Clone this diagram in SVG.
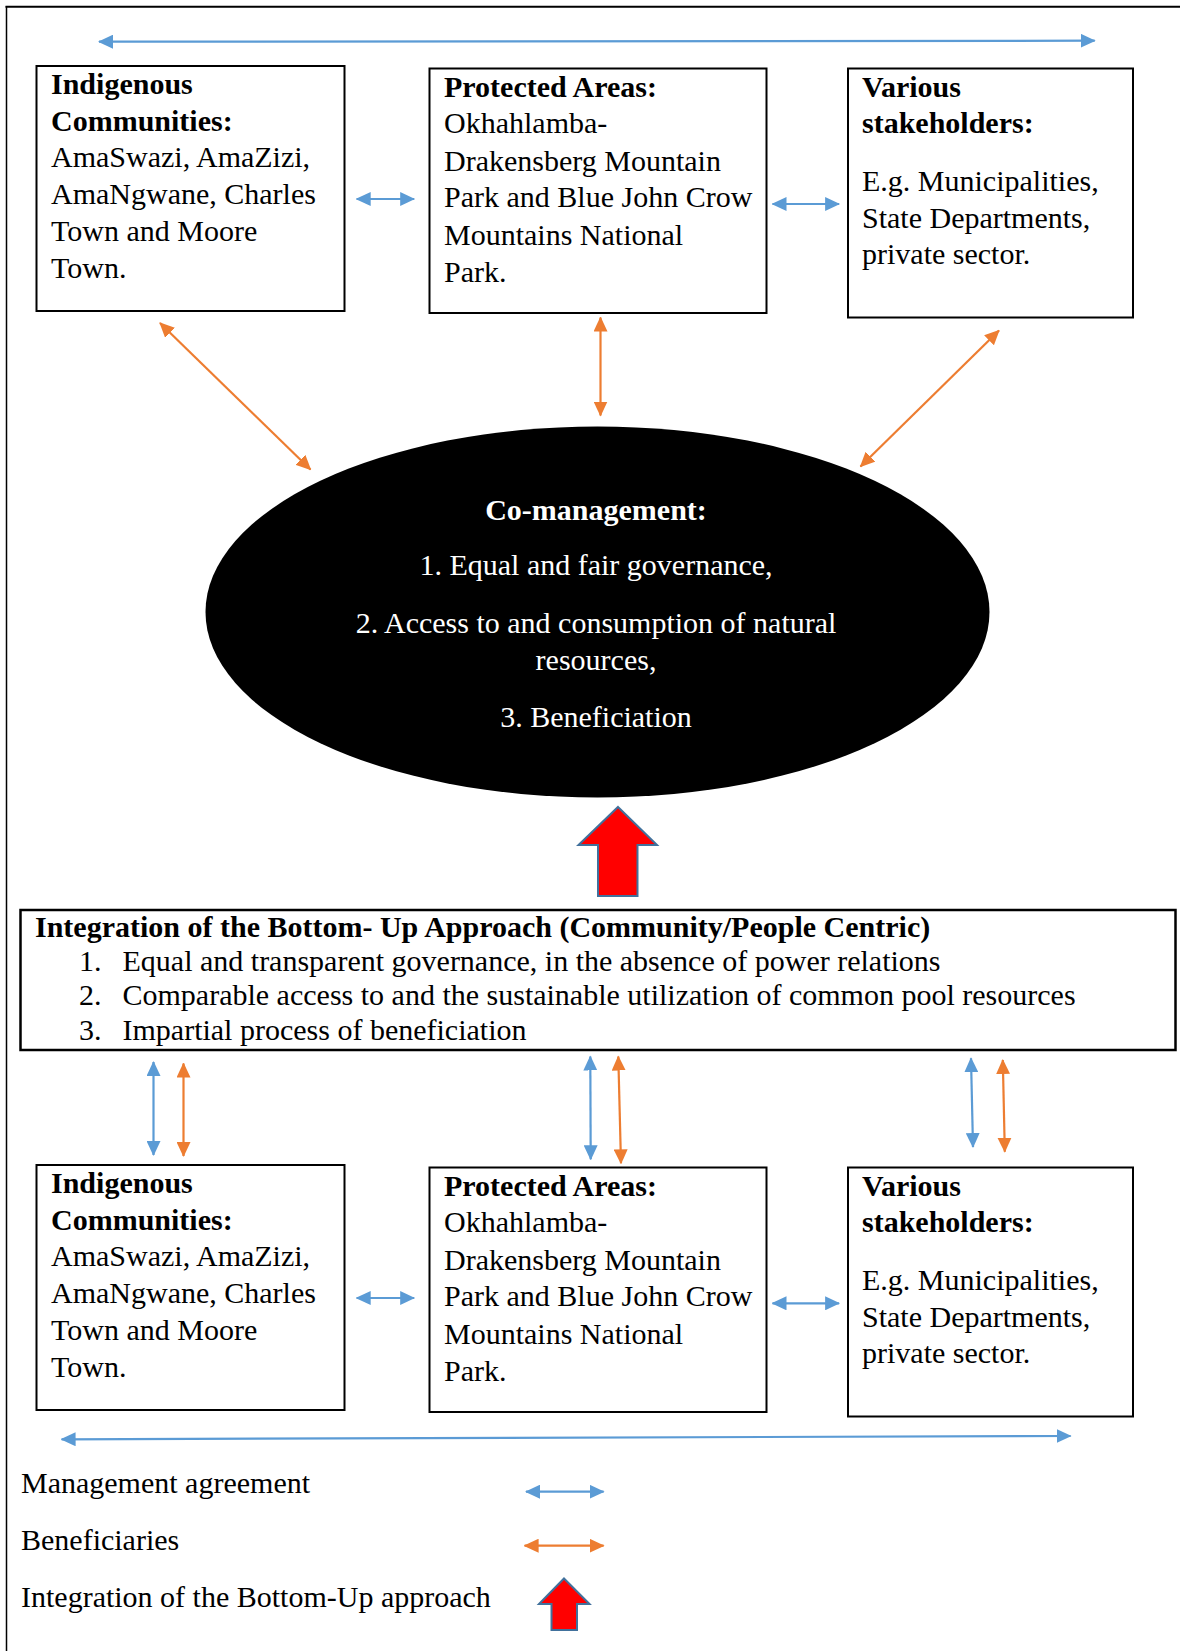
<svg xmlns="http://www.w3.org/2000/svg" width="1180" height="1651" viewBox="0 0 1180 1651">
  <style>
    text { font-family: "Liberation Serif", "Times New Roman", serif; font-size: 30px; fill: #000; }
    .b { font-weight: bold; }
    .w { fill: #fff; }
    .mid { text-anchor: middle; }
    .box { fill: #fff; stroke: #000; stroke-width: 2; }
    .blue { stroke: #5B9BD5; stroke-width: 2.2; fill: none; marker-start: url(#headBlue); marker-end: url(#headBlue); }
    .orange { stroke: #ED7D31; stroke-width: 2.2; fill: none; marker-start: url(#headOrange); marker-end: url(#headOrange); }
    .block { fill: #FF0000; stroke: #41719C; stroke-width: 2; stroke-linejoin: miter; }
  </style>
  <defs>
    <marker id="headBlue" markerUnits="userSpaceOnUse" viewBox="0 0 15 14" markerWidth="15" markerHeight="14" refX="14" refY="7" orient="auto-start-reverse">
      <path d="M0,0 L15,7 L0,14 z" fill="#5B9BD5"/>
    </marker>
    <marker id="headOrange" markerUnits="userSpaceOnUse" viewBox="0 0 15 14" markerWidth="15" markerHeight="14" refX="14" refY="7" orient="auto-start-reverse">
      <path d="M0,0 L15,7 L0,14 z" fill="#ED7D31"/>
    </marker>
  </defs>

  <rect width="1180" height="1651" fill="#fff"/>

  <!-- page frame: top and left rules -->
  <g id="frame" stroke="#000">
    <line x1="5.5" y1="6.7" x2="1180" y2="6.7" stroke-width="2"/>
    <line x1="6.5" y1="6" x2="6.5" y2="1651" stroke-width="1.5"/>
  </g>

  <!-- upper row -->
  <g id="ic-top">
    <rect class="box" x="36.5" y="66" width="308" height="245"/>
    <text x="51" y="94" class="b">Indigenous</text>
    <text x="51" y="131" class="b">Communities:</text>
    <text x="51" y="167">AmaSwazi, AmaZizi,</text>
    <text x="51" y="204">AmaNgwane, Charles</text>
    <text x="51" y="241">Town and Moore</text>
    <text x="51" y="278">Town.</text>
  </g>
  <g id="pa-top">
    <rect class="box" x="429.5" y="68.5" width="337" height="244.5"/>
    <text x="444" y="97" class="b">Protected Areas:</text>
    <text x="444" y="133">Okhahlamba-</text>
    <text x="444" y="171">Drakensberg Mountain</text>
    <text x="444" y="207">Park and Blue John Crow</text>
    <text x="444" y="245">Mountains National</text>
    <text x="444" y="282">Park.</text>
  </g>
  <g id="vs-top">
    <rect class="box" x="848" y="68.5" width="285" height="249"/>
    <text x="862" y="97" class="b">Various</text>
    <text x="862" y="133" class="b">stakeholders:</text>
    <text x="862" y="191">E.g. Municipalities,</text>
    <text x="862" y="228">State Departments,</text>
    <text x="862" y="264">private sector.</text>
  </g>

  <!-- central co-management ellipse -->
  <g id="co-management">
    <ellipse cx="597.5" cy="612" rx="392" ry="185.5" fill="#000"/>
    <text x="596" y="520" class="b w mid">Co-management:</text>
    <text x="596" y="575" class="w mid">1. Equal and fair governance,</text>
    <text x="596" y="633" class="w mid">2. Access to and consumption of natural</text>
    <text x="596" y="670" class="w mid">resources,</text>
    <text x="596" y="727" class="w mid">3. Beneficiation</text>
  </g>

  <!-- bottom-up integration block arrow -->
  <g id="bottom-up-arrow">
    <polygon class="block" points="618,807 657,845 637.5,845 637.5,896 598,896 598,845 578.5,845"/>
  </g>

  <!-- bottom-up approach panel -->
  <g id="bottom-up">
    <rect x="20.5" y="910" width="1155" height="140" fill="#fff" stroke="#000" stroke-width="2.5"/>
    <text x="35" y="937" class="b">Integration of the Bottom- Up Approach (Community/People Centric)</text>
    <text x="79" y="971">1.</text>
    <text x="122.5" y="971">Equal and transparent governance, in the absence of power relations</text>
    <text x="79" y="1005">2.</text>
    <text x="122.5" y="1005">Comparable access to and the sustainable utilization of common pool resources</text>
    <text x="79" y="1039.5">3.</text>
    <text x="122.5" y="1039.5">Impartial process of beneficiation</text>
  </g>

  <!-- lower row -->
  <g id="ic-bottom">
    <rect class="box" x="36.5" y="1165" width="308" height="245"/>
    <text x="51" y="1193" class="b">Indigenous</text>
    <text x="51" y="1230" class="b">Communities:</text>
    <text x="51" y="1266">AmaSwazi, AmaZizi,</text>
    <text x="51" y="1303">AmaNgwane, Charles</text>
    <text x="51" y="1340">Town and Moore</text>
    <text x="51" y="1377">Town.</text>
  </g>
  <g id="pa-bottom">
    <rect class="box" x="429.5" y="1167.5" width="337" height="244.5"/>
    <text x="444" y="1196" class="b">Protected Areas:</text>
    <text x="444" y="1232">Okhahlamba-</text>
    <text x="444" y="1270">Drakensberg Mountain</text>
    <text x="444" y="1306">Park and Blue John Crow</text>
    <text x="444" y="1344">Mountains National</text>
    <text x="444" y="1381">Park.</text>
  </g>
  <g id="vs-bottom">
    <rect class="box" x="848" y="1167.5" width="285" height="249"/>
    <text x="862" y="1196" class="b">Various</text>
    <text x="862" y="1232" class="b">stakeholders:</text>
    <text x="862" y="1290">E.g. Municipalities,</text>
    <text x="862" y="1327">State Departments,</text>
    <text x="862" y="1363">private sector.</text>
  </g>

  <!-- connectors -->
  <g id="connectors">
    <!-- management agreements (blue) -->
    <line class="blue" x1="99" y1="41.7" x2="1094.7" y2="40.7"/>
    <line class="blue" x1="356.7" y1="199" x2="414.2" y2="199"/>
    <line class="blue" x1="772.5" y1="204" x2="839.1" y2="204"/>
    <line class="blue" x1="356.7" y1="1298" x2="414.2" y2="1298"/>
    <line class="blue" x1="772.5" y1="1303.3" x2="839.1" y2="1303.3"/>
    <line class="blue" x1="61.6" y1="1439.3" x2="1070.6" y2="1436"/>
    <line class="blue" x1="153.5" y1="1062" x2="153.5" y2="1155"/>
    <line class="blue" x1="590.3" y1="1056.5" x2="590.7" y2="1159.3"/>
    <line class="blue" x1="971" y1="1058.3" x2="973" y2="1147"/>
    <!-- beneficiaries (orange) -->
    <line class="orange" x1="160" y1="323" x2="310.5" y2="469.5"/>
    <line class="orange" x1="600.5" y1="317.5" x2="600.5" y2="415.5"/>
    <line class="orange" x1="999" y1="330.5" x2="860.5" y2="466.5"/>
    <line class="orange" x1="183.5" y1="1063.5" x2="183.5" y2="1156"/>
    <line class="orange" x1="618.3" y1="1056.5" x2="621" y2="1163.3"/>
    <line class="orange" x1="1002.8" y1="1060" x2="1004.8" y2="1151.7"/>
  </g>

  <!-- key -->
  <g id="legend">
    <text x="21" y="1493">Management agreement</text>
    <line class="blue" x1="526" y1="1491.7" x2="603.6" y2="1491.7"/>
    <text x="21" y="1550">Beneficiaries</text>
    <line class="orange" x1="524.6" y1="1545.7" x2="603.6" y2="1545.7"/>
    <text x="21" y="1607">Integration of the Bottom-Up approach</text>
    <polygon class="block" points="564,1578.5 589.5,1604 577,1604 577,1630 551.5,1630 551.5,1604 539,1604"/>
  </g>
</svg>
